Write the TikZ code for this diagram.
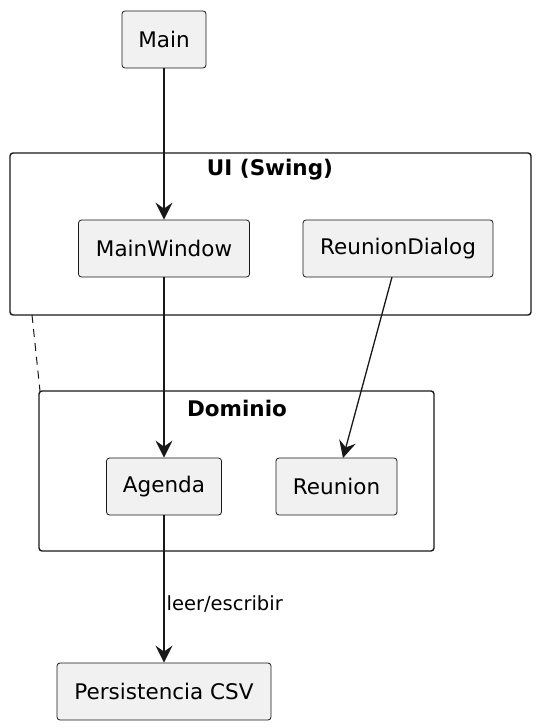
\documentclass[tikz,border=0pt]{standalone}
\usepackage{fontspec}
\setmainfont{DejaVu Sans}
\usetikzlibrary{arrows.meta}
\definecolor{nodefill}{HTML}{F1F1F1}
\definecolor{linec}{HTML}{181818}
\tikzset{
  comp/.style={draw=linec, fill=nodefill, rounded corners=3pt, line width=0.8pt, inner sep=0pt,
    font=\fontsize{21.5}{25}\selectfont, anchor=center},
  pkg/.style={draw=linec, rounded corners=3pt, line width=1.4pt},
  pkgtitle/.style={font=\fontsize{21.5}{25}\selectfont\bfseries, anchor=center},
  arr/.style={draw=linec, line width=1.3pt, -{Stealth[length=17pt,width=17pt,inset=6pt]}},
  lbl/.style={font=\fontsize{19.5}{23}\selectfont, anchor=west, inner sep=0pt}
}
\begin{document}
\begin{tikzpicture}[x=1pt,y=-1pt]
\useasboundingbox (0,0) rectangle (539,728);
% packages
\draw[pkg] (10,153) rectangle (531,315);
\node[pkgtitle] (uit) at (270,170) {UI (Swing)};
\draw[pkg] (39,391) rectangle (434,551);
\node[pkgtitle] (domt) at (237,408) {Dominio};
\coordinate (d1) at (32,315);
\coordinate (d2) at (40,391);
\draw[linec, line width=1pt, dash pattern=on 8pt off 6pt] (d1) -- (d2);
% nodes
\node[comp, minimum width=84pt, minimum height=57pt] (main) at (164,39.5) {Main};
\node[comp, minimum width=171pt, minimum height=57pt] (mw) at (164,248.5) {MainWindow};
\node[comp, minimum width=190pt, minimum height=57pt] (rd) at (398,248.5) {ReunionDialog};
\node[comp, minimum width=115pt, minimum height=57pt] (ag) at (164,486.5) {Agenda};
\node[comp, minimum width=121pt, minimum height=57pt] (re) at (336.5,486.5) {Reunion};
\node[comp, minimum width=214pt, minimum height=57pt] (csv) at (164,691.5) {Persistencia CSV};
% connectors
\coordinate (rdout) at (392,277);
\coordinate (rein) at (343,458);
\draw[arr] (main.south) -- (mw.north);
\draw[arr] (mw.south) -- (ag.north);
\draw[arr] (rdout) -- (rein);
\draw[arr] (ag.south) -- node[lbl, pos=0.6, xshift=2pt] {leer/escribir} (csv.north);
\end{tikzpicture}
\end{document}
